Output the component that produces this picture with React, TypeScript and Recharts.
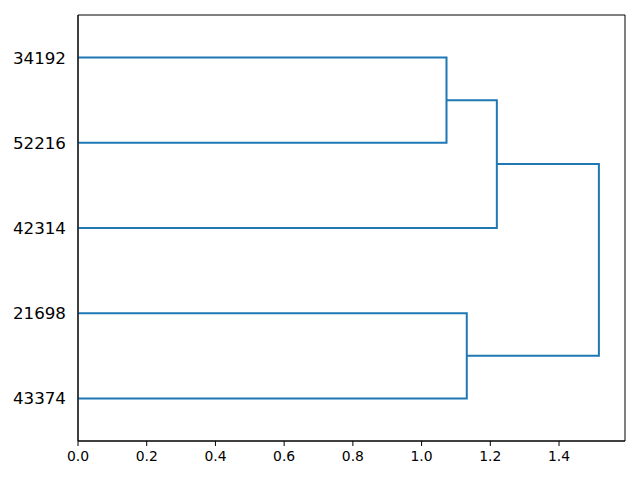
import React from 'react';
import { LineChart, Line, XAxis, YAxis, ReferenceArea } from 'recharts';

// leaves listed bottom to top, as scipy places them (y = 5, 15, 25, ...)
const leafLabels = ['43374', '21698', '42314', '52216', '34192'];
// linkage rows: [cluster a, cluster b, merge distance]
const merges: [number, number, number][] = [
  [3, 4, 1.0725],
  [0, 1, 1.1315],
  [2, 5, 1.219],
  [6, 7, 1.516],
];
const xTicks = [0, 0.2, 0.4, 0.6, 0.8, 1.0, 1.2, 1.4];
const xMax = 1.592;

const COLOR = '#1f77b4';
const FONT = '"DejaVu Sans", sans-serif';

const leafPos = leafLabels.map((_, i) => i * 10 + 5);

// build the U-shaped links from the linkage table
const buildLinks = () => {
  const pos = [...leafPos];
  const height = leafLabels.map(() => 0);
  return merges.map(([a, b, h]) => {
    const seg = [
      { x: height[a], y: pos[a] },
      { x: h, y: pos[a] },
      { x: h, y: pos[b] },
      { x: height[b], y: pos[b] },
    ];
    pos.push((pos[a] + pos[b]) / 2);
    height.push(h);
    return seg;
  });
};

const links = buildLinks();

const XTick = (props: any) => {
  const { x, y, payload } = props;
  return (
    <text x={x} y={y + 5} textAnchor="middle" dominantBaseline="hanging" fill="#000" fontSize={13.9} fontFamily={FONT}>
      {Number(payload.value).toFixed(1)}
    </text>
  );
};

const YTick = (props: any) => {
  const { x, y, payload } = props;
  return (
    <text x={x} y={y} textAnchor="end" dominantBaseline="central" fill="#000" fontSize={16.7} fontFamily={FONT}>
      {leafLabels[Math.round((payload.value - 5) / 10)]}
    </text>
  );
};

const App: React.FC = () => {
  return (
    <div style={{ position: 'absolute', left: 0, top: 0, width: 640, height: 480, background: '#fff' }}>
      <LineChart width={640} height={480} margin={{ top: 15, right: 15, left: 0, bottom: 0 }}>
        <XAxis
          type="number"
          dataKey="x"
          domain={[0, xMax]}
          ticks={xTicks}
          allowDataOverflow
          height={39}
          tickSize={5}
          tickMargin={0}
          axisLine={{ stroke: '#000' }}
          tickLine={{ stroke: '#000' }}
          tick={<XTick />}
        />
        <YAxis
          type="number"
          dataKey="y"
          domain={[0, 50]}
          ticks={leafPos}
          width={78}
          tickLine={false}
          tickSize={6}
          tickMargin={6}
          axisLine={{ stroke: '#000' }}
          tick={<YTick />}
        />
        <ReferenceArea x1={0} x2={xMax} y1={0} y2={50} fill="none" stroke="#000" strokeWidth={1} />
        {links.map((seg, i) => (
          <Line
            key={i}
            data={seg}
            dataKey="y"
            type="linear"
            stroke={COLOR}
            strokeWidth={2}
            dot={false}
            activeDot={false}
            isAnimationActive={false}
          />
        ))}
      </LineChart>
    </div>
  );
};

export default App;
